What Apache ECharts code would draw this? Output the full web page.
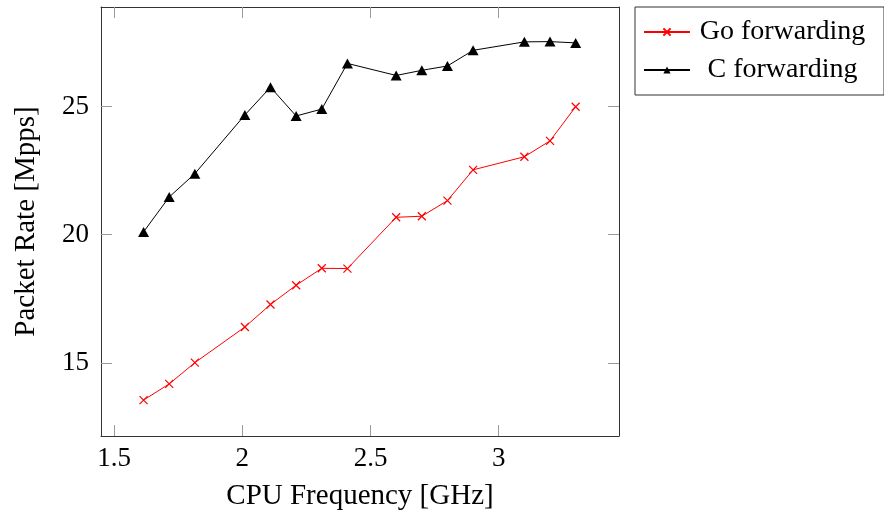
<!DOCTYPE html>
<html><head><meta charset="utf-8">
<script src="https://cdn.jsdelivr.net/npm/echarts@6/dist/echarts.min.js"></script>
<style>html,body{margin:0;padding:0;background:#fff}#c{width:884px;height:516px}</style>
</head><body><div id="c"></div>
<script>
const freqGHz = [1.615,1.715,1.815,2.01,2.11,2.21,2.31,2.41,2.6,2.7,2.8,2.9,3.1,3.2,3.3];
const goRate = [13.55,14.18,15.01,16.40,17.28,18.03,18.69,18.68,20.68,20.72,21.33,22.53,23.04,23.66,24.99];
const cRate = [20.11,21.47,22.38,24.67,25.75,24.63,24.90,26.68,26.21,26.41,26.58,27.19,27.52,27.53,27.48];
const xTicks = [1.5,2,2.5,3];
const yTicks = [15,20,25];
const seriesNames = ['Go forwarding','C forwarding'];
const xTitle = 'CPU Frequency [GHz]';
const yTitle = 'Packet Rate [Mpps]';

const FONT = 'Liberation Serif, DejaVu Serif, serif';
const frame = {show:true, lineStyle:{color:'#333', width:1}};
const tick = (vals) => ({show:true, inside:true, length:11, customValues:vals, lineStyle:{color:'#9a9a9a', width:1}});
const xRange = {min:1.449, max:3.469};
const yRange = {min:12.15, max:28.88};

const chart = echarts.init(document.getElementById('c'), null, {renderer:'canvas'});
chart.setOption({
  animation:false,
  backgroundColor:'#fff',
  textStyle:{fontFamily:FONT},
  grid:{left:101, right:265, top:7, bottom:79, containLabel:false},
  legend:{
    orient:'vertical', left:635, top:7,
    padding:[11,14,11,8], itemGap:10, itemWidth:46, itemHeight:9,
    borderColor:'#333', borderWidth:1, borderRadius:0,
    data:seriesNames,
    formatter:(n)=>'{t|'+n+'}',
    textStyle:{fontFamily:FONT, fontSize:28, color:'#000',
      rich:{t:{fontFamily:FONT, fontSize:28, lineHeight:24, width:175, align:'center', color:'#000'}}}
  },
  xAxis:[
    Object.assign({type:'value', position:'bottom', axisLine:frame, axisTick:tick(xTicks), splitLine:{show:false},
      axisLabel:{customValues:xTicks, margin:9, fontFamily:FONT, fontSize:27, color:'#000'},
      name:xTitle, nameLocation:'middle', nameGap:46,
      nameTextStyle:{fontFamily:FONT, fontSize:29, color:'#000'}}, xRange),
    Object.assign({type:'value', position:'top', axisLine:frame, axisTick:tick(xTicks), splitLine:{show:false},
      axisLabel:{show:false}}, xRange)
  ],
  yAxis:[
    Object.assign({type:'value', position:'left', axisLine:frame, axisTick:tick(yTicks), splitLine:{show:false},
      axisLabel:{customValues:yTicks, margin:12, fontFamily:FONT, fontSize:27, color:'#000'},
      name:yTitle, nameLocation:'middle', nameGap:60, nameRotate:90,
      nameTextStyle:{fontFamily:FONT, fontSize:29, color:'#000'}}, yRange),
    Object.assign({type:'value', position:'right', axisLine:frame, axisTick:tick(yTicks), splitLine:{show:false},
      axisLabel:{show:false}}, yRange)
  ],
  series:[
    {name:seriesNames[0], type:'line', data:freqGHz.map((x,i)=>[x,goRate[i]]),
      lineStyle:{color:'#ff0000', width:1}, symbol:'path://M0,0L10,10M10,0L0,10', symbolSize:8,
      showAllSymbol:true,
      itemStyle:{color:'#ff0000', borderColor:'#ff0000', borderWidth:1.2}},
    {name:seriesNames[1], type:'line', data:freqGHz.map((x,i)=>[x,cRate[i]]),
      lineStyle:{color:'#000', width:1}, symbol:'triangle', symbolSize:[11,10],
      showAllSymbol:true,
      itemStyle:{color:'#000'}}
  ]
});
</script></body></html>
